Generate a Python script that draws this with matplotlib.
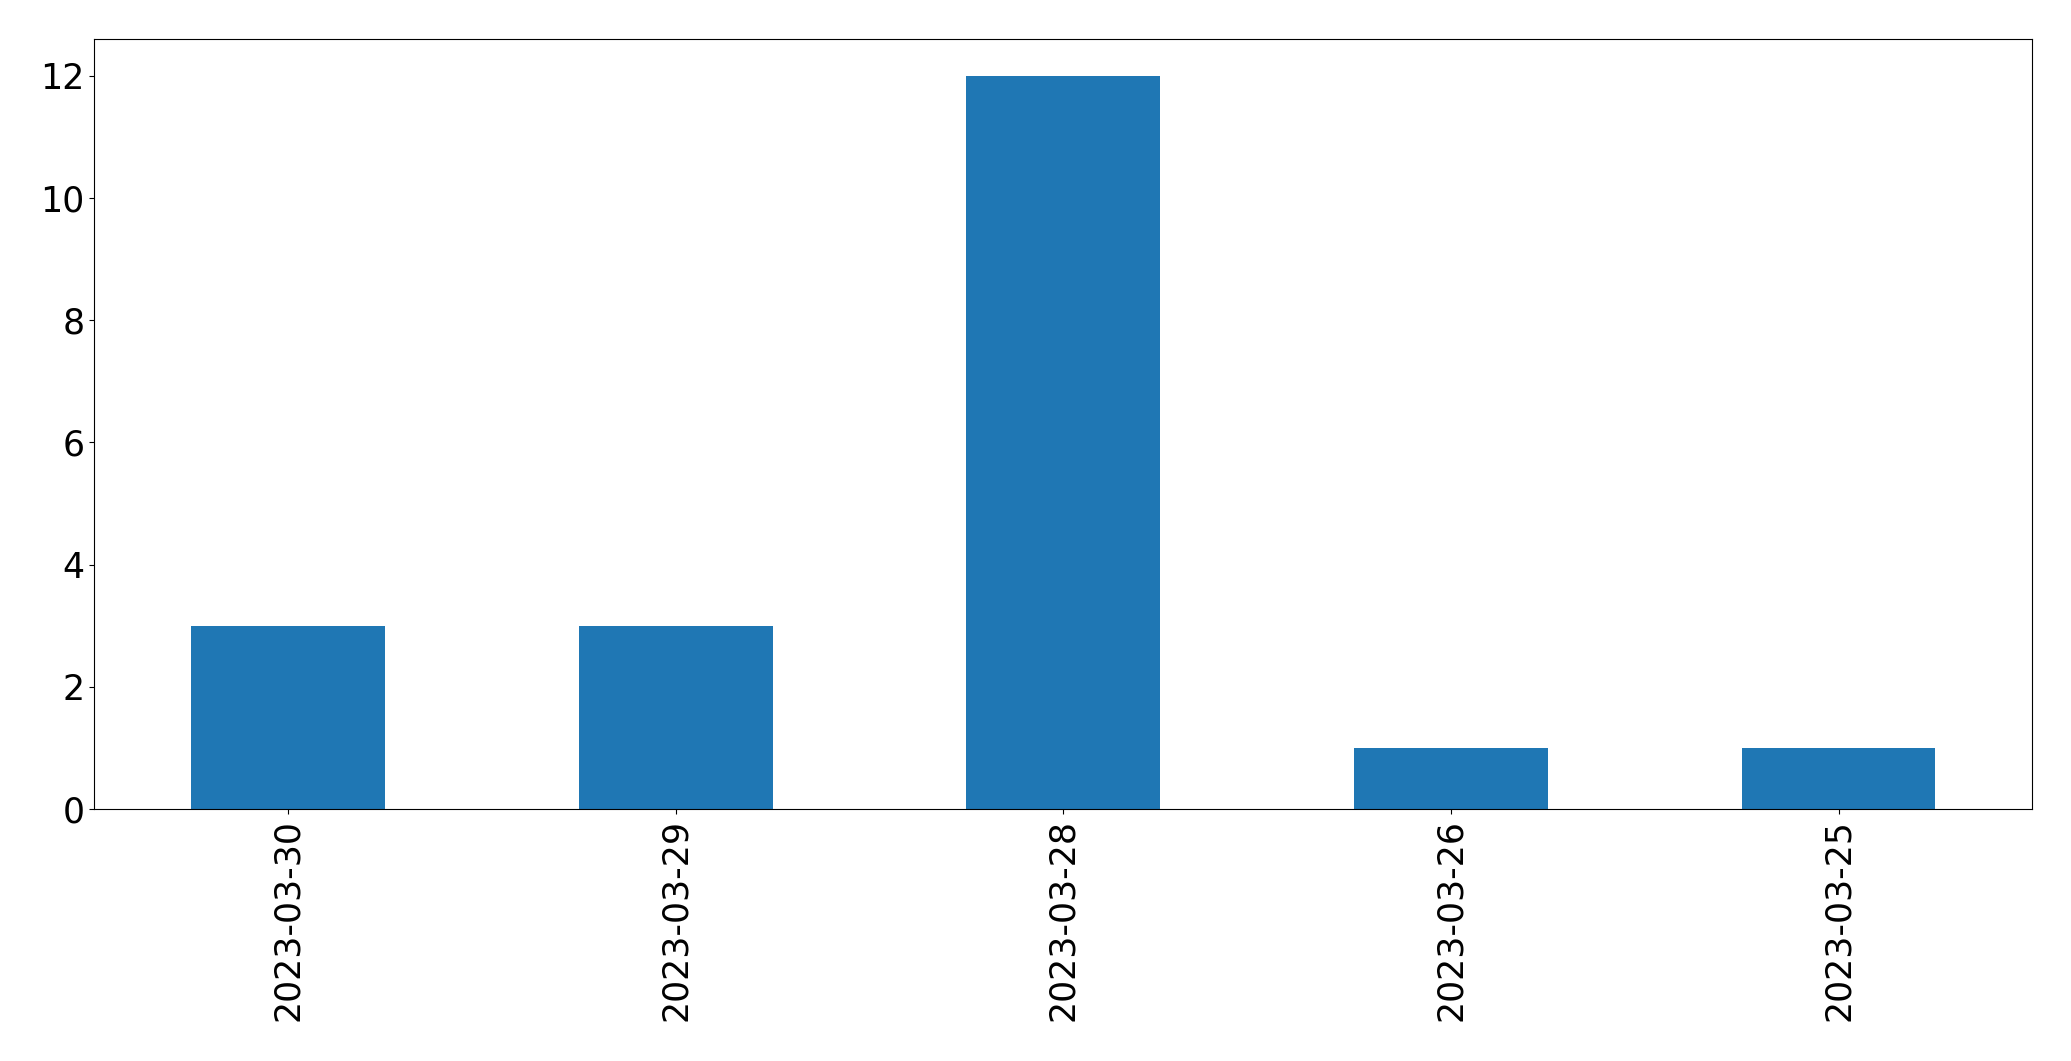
import matplotlib
matplotlib.use('Agg')
import matplotlib.pyplot as plt
import pandas as pd

dates = ['2023-03-30', '2023-03-29', '2023-03-28', '2023-03-26', '2023-03-25']
counts = [3, 3, 12, 1, 1]

W, H = 2071, 1061
fig = plt.figure(figsize=(W / 100, H / 100), dpi=100)
ax = fig.add_axes([94.3 / W, (H - 809) / H, 1938 / W, (809 - 39.3) / H])

s = pd.Series(counts, index=dates)
s.plot(kind='bar', ax=ax, color='#1f77b4')
ax.tick_params(axis='both', labelsize=25)

fig.savefig('out.png', dpi=100)
